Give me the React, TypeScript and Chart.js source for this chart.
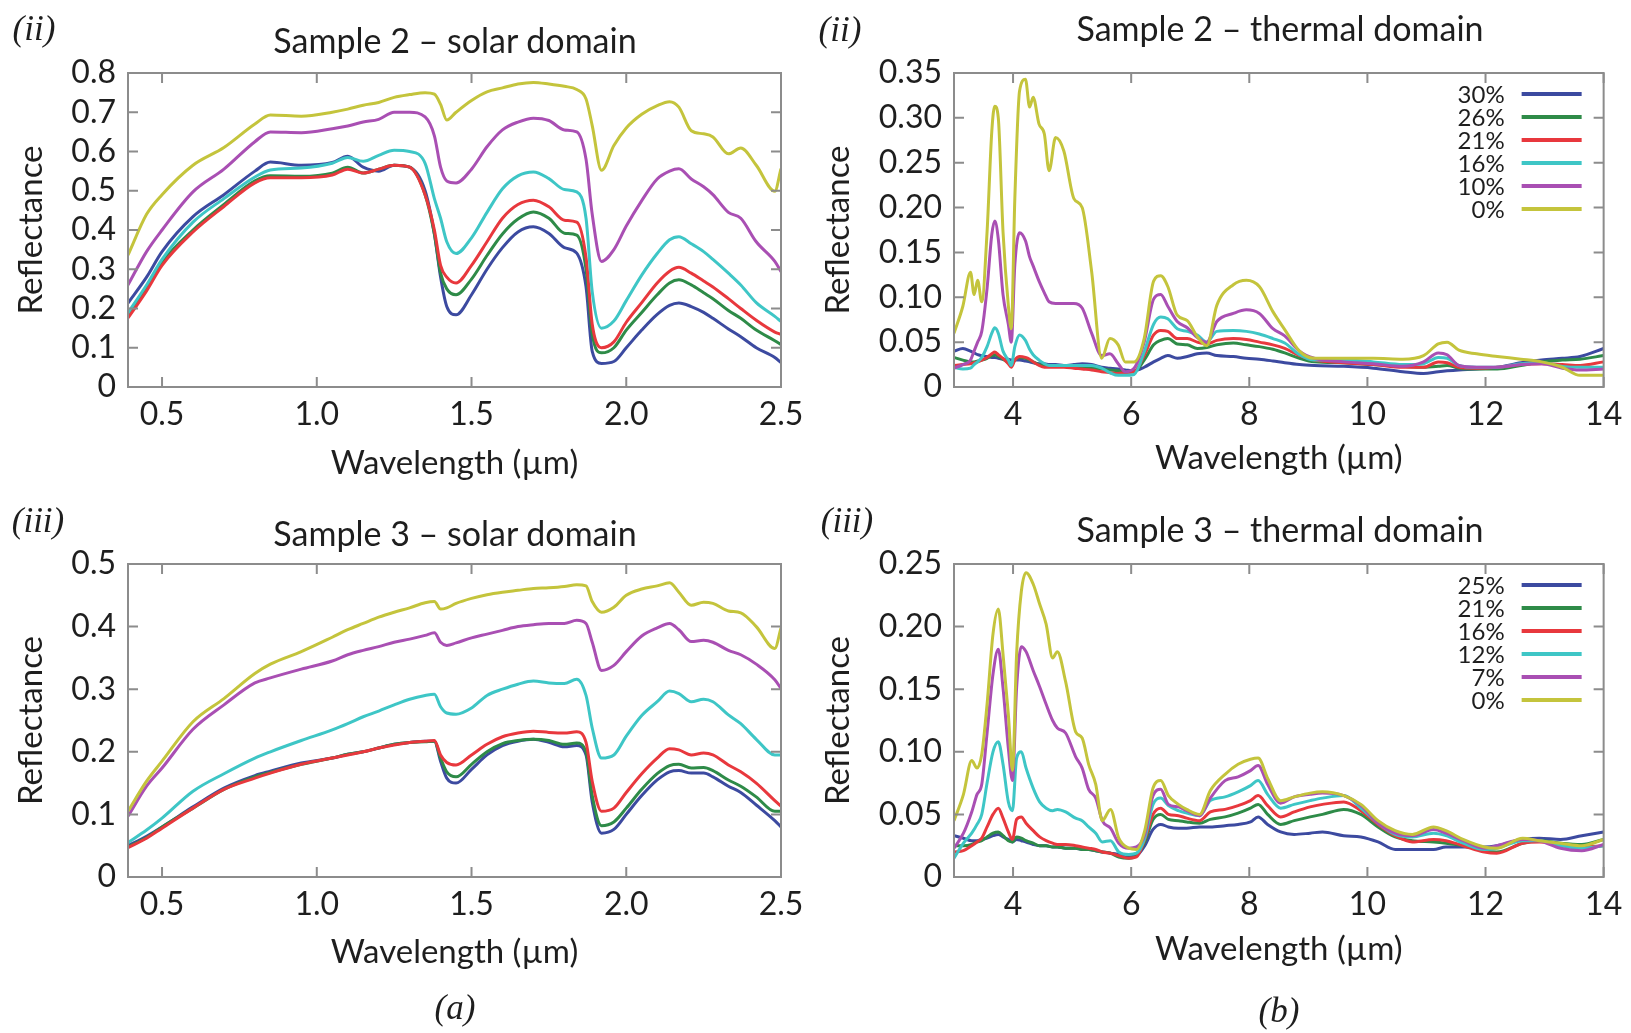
import React, { useEffect, useRef } from "react";
import { Chart, registerables } from "chart.js";

Chart.register(...registerables);

// ---------------- data ----------------
const SOLAR_WL = [0.39, 0.45, 0.5, 0.6, 0.7, 0.8, 0.85, 0.95, 1.05, 1.1, 1.15, 1.2, 1.25, 1.3, 1.35, 1.38, 1.4, 1.42, 1.45, 1.5, 1.55, 1.6, 1.65, 1.7, 1.75, 1.8, 1.84, 1.87, 1.89, 1.92, 1.96, 2.0, 2.05, 2.1, 2.14, 2.17, 2.21, 2.25, 2.28, 2.33, 2.37, 2.42, 2.48, 2.5];

const S2_SOLAR_30 = [0.214, 0.28, 0.345, 0.434, 0.49, 0.55, 0.573, 0.565, 0.572, 0.588, 0.56, 0.55, 0.565, 0.56, 0.50, 0.39, 0.28, 0.205, 0.184, 0.235, 0.30, 0.355, 0.395, 0.408, 0.391, 0.355, 0.341, 0.255, 0.091, 0.06, 0.065, 0.10, 0.145, 0.185, 0.208, 0.214, 0.205, 0.19, 0.175, 0.148, 0.128, 0.10, 0.075, 0.062];
const S2_SOLAR_26 = [0.185, 0.255, 0.318, 0.40, 0.465, 0.525, 0.538, 0.537, 0.545, 0.56, 0.545, 0.555, 0.565, 0.56, 0.49, 0.39, 0.29, 0.25, 0.235, 0.275, 0.335, 0.39, 0.428, 0.446, 0.43, 0.392, 0.387, 0.30, 0.135, 0.087, 0.10, 0.145, 0.19, 0.235, 0.265, 0.273, 0.26, 0.24, 0.225, 0.195, 0.175, 0.145, 0.118, 0.108];
const S2_SOLAR_21 = [0.176, 0.245, 0.31, 0.395, 0.46, 0.52, 0.533, 0.533, 0.54, 0.555, 0.545, 0.555, 0.565, 0.56, 0.49, 0.40, 0.31, 0.28, 0.265, 0.31, 0.37, 0.43, 0.465, 0.476, 0.459, 0.425, 0.42, 0.33, 0.16, 0.10, 0.115, 0.165, 0.215, 0.265, 0.295, 0.305, 0.29, 0.27, 0.255, 0.225, 0.20, 0.17, 0.14, 0.134];
const S2_SOLAR_16 = [0.189, 0.26, 0.325, 0.42, 0.48, 0.535, 0.553, 0.558, 0.57, 0.585, 0.575, 0.59, 0.603, 0.60, 0.57, 0.48, 0.43, 0.37, 0.34, 0.38, 0.445, 0.505, 0.538, 0.548, 0.531, 0.503, 0.497, 0.43, 0.243, 0.15, 0.168, 0.22, 0.285, 0.34, 0.375, 0.383, 0.365, 0.345, 0.325, 0.29, 0.26, 0.215, 0.18, 0.167];
const S2_SOLAR_10 = [0.26, 0.345, 0.40, 0.497, 0.555, 0.625, 0.65, 0.648, 0.658, 0.665, 0.675, 0.682, 0.70, 0.70, 0.688, 0.64, 0.56, 0.525, 0.52, 0.555, 0.612, 0.655, 0.675, 0.685, 0.679, 0.655, 0.65, 0.58, 0.44, 0.32, 0.35, 0.41, 0.475, 0.53, 0.55, 0.556, 0.53, 0.51, 0.49, 0.445, 0.43, 0.37, 0.32, 0.294];
const S2_SOLAR_0 = [0.336, 0.44, 0.49, 0.565, 0.61, 0.67, 0.693, 0.69, 0.70, 0.708, 0.718, 0.725, 0.738, 0.745, 0.75, 0.746, 0.72, 0.68, 0.70, 0.73, 0.752, 0.762, 0.772, 0.776, 0.772, 0.766, 0.758, 0.734, 0.666, 0.552, 0.615, 0.66, 0.695, 0.717, 0.727, 0.713, 0.653, 0.645, 0.637, 0.594, 0.609, 0.565, 0.499, 0.556];

const S3_SOLAR_25 = [0.05, 0.065, 0.08, 0.112, 0.142, 0.162, 0.169, 0.182, 0.19, 0.196, 0.2, 0.206, 0.212, 0.215, 0.217, 0.217, 0.185, 0.158, 0.15, 0.172, 0.195, 0.21, 0.217, 0.22, 0.215, 0.208, 0.21, 0.195, 0.12, 0.07, 0.076, 0.10, 0.13, 0.155, 0.168, 0.17, 0.166, 0.166, 0.16, 0.145, 0.135, 0.115, 0.09, 0.08];
const S3_SOLAR_21 = [0.048, 0.063, 0.08, 0.11, 0.14, 0.16, 0.167, 0.18, 0.19, 0.196, 0.2, 0.206, 0.212, 0.215, 0.216, 0.217, 0.19, 0.168, 0.16, 0.18, 0.2, 0.213, 0.218, 0.22, 0.218, 0.212, 0.214, 0.2, 0.13, 0.082, 0.088, 0.11, 0.14, 0.165, 0.178, 0.18, 0.174, 0.175, 0.17, 0.155, 0.145, 0.128, 0.105, 0.105];
const S3_SOLAR_16 = [0.047, 0.062, 0.078, 0.11, 0.14, 0.158, 0.166, 0.18, 0.19, 0.195, 0.2, 0.206, 0.211, 0.215, 0.217, 0.218, 0.195, 0.183, 0.179, 0.195, 0.212, 0.224, 0.23, 0.233, 0.231, 0.23, 0.232, 0.215, 0.153, 0.105, 0.11, 0.135, 0.165, 0.19, 0.205, 0.203, 0.195, 0.198, 0.195, 0.179, 0.168, 0.15, 0.122, 0.113];
const S3_SOLAR_12 = [0.055, 0.075, 0.094, 0.137, 0.165, 0.19, 0.20, 0.218, 0.235, 0.245, 0.256, 0.265, 0.275, 0.284, 0.29, 0.292, 0.272, 0.262, 0.26, 0.27, 0.29, 0.30, 0.308, 0.313, 0.31, 0.309, 0.316, 0.29, 0.238, 0.19, 0.195, 0.225, 0.258, 0.28, 0.297, 0.293, 0.28, 0.284, 0.28, 0.259, 0.245, 0.22, 0.195, 0.195];
const S3_SOLAR_7 = [0.097, 0.145, 0.174, 0.236, 0.275, 0.31, 0.318, 0.332, 0.345, 0.355, 0.362, 0.368, 0.375, 0.38, 0.386, 0.39, 0.375, 0.37, 0.374, 0.382, 0.388, 0.394, 0.40, 0.403, 0.405, 0.405, 0.41, 0.405, 0.375, 0.33, 0.338, 0.36, 0.385, 0.398, 0.405, 0.395, 0.376, 0.378, 0.375, 0.362, 0.355, 0.34, 0.315, 0.301];
const S3_SOLAR_0 = [0.105, 0.153, 0.185, 0.248, 0.285, 0.325, 0.34, 0.36, 0.383, 0.395, 0.405, 0.415, 0.423, 0.43, 0.438, 0.44, 0.428, 0.43, 0.437, 0.445, 0.451, 0.455, 0.458, 0.461, 0.462, 0.464, 0.467, 0.465, 0.44, 0.423, 0.431, 0.45, 0.46, 0.465, 0.47, 0.455, 0.434, 0.439, 0.437, 0.425, 0.422, 0.40, 0.365, 0.398];

const S2_THERMAL_WL = [3.0, 3.15, 3.28, 3.34, 3.4, 3.47, 3.56, 3.64, 3.69, 3.75, 3.83, 3.92, 3.97, 4.03, 4.11, 4.21, 4.28, 4.34, 4.44, 4.53, 4.61, 4.72, 4.86, 5.03, 5.17, 5.33, 5.5, 5.64, 5.78, 5.9, 6.05, 6.22, 6.38, 6.5, 6.62, 6.78, 6.95, 7.12, 7.28, 7.45, 7.73, 7.95, 8.17, 8.4, 8.6, 8.85, 9.1, 9.6, 10.1, 10.6, 10.95, 11.2, 11.35, 11.55, 11.85, 12.2, 12.6, 12.95, 13.3, 13.6, 14.0];
const S2_THERMAL_30 = [0.04, 0.043, 0.04, 0.038, 0.036, 0.035, 0.034, 0.033, 0.033, 0.032, 0.031, 0.031, 0.03, 0.03, 0.03, 0.029, 0.028, 0.027, 0.026, 0.026, 0.025, 0.025, 0.024, 0.025, 0.026, 0.025, 0.022, 0.021, 0.02, 0.019, 0.018, 0.022, 0.028, 0.032, 0.035, 0.032, 0.034, 0.037, 0.038, 0.035, 0.034, 0.032, 0.031, 0.029, 0.027, 0.025, 0.024, 0.023, 0.021, 0.017, 0.015, 0.017, 0.018, 0.019, 0.02, 0.022, 0.027, 0.03, 0.032, 0.034, 0.043];
const S2_THERMAL_26 = [0.033, 0.03, 0.028, 0.028, 0.029, 0.03, 0.032, 0.035, 0.036, 0.034, 0.031, 0.027, 0.024, 0.03, 0.033, 0.032, 0.03, 0.028, 0.025, 0.024, 0.023, 0.023, 0.023, 0.022, 0.022, 0.021, 0.02, 0.019, 0.018, 0.017, 0.017, 0.03, 0.047, 0.052, 0.054, 0.048, 0.047, 0.043, 0.044, 0.047, 0.049, 0.047, 0.045, 0.042, 0.038, 0.032, 0.028, 0.027, 0.025, 0.023, 0.022, 0.023, 0.024, 0.021, 0.02, 0.02, 0.024, 0.028, 0.03, 0.031, 0.035];
const S2_THERMAL_21 = [0.024, 0.025, 0.026, 0.027, 0.028, 0.03, 0.033, 0.037, 0.039, 0.036, 0.032, 0.026, 0.022, 0.03, 0.034, 0.033, 0.031, 0.028, 0.024, 0.022, 0.022, 0.022, 0.022, 0.021, 0.02, 0.019, 0.017, 0.016, 0.015, 0.016, 0.017, 0.035, 0.058, 0.063, 0.062, 0.054, 0.054, 0.05, 0.048, 0.052, 0.054, 0.053, 0.05, 0.047, 0.043, 0.035, 0.03, 0.027, 0.025, 0.022, 0.022, 0.028, 0.027, 0.022, 0.021, 0.022, 0.025, 0.026, 0.025, 0.024, 0.028];
const S2_THERMAL_16 = [0.022, 0.02, 0.021, 0.025, 0.028, 0.033, 0.045, 0.06, 0.066, 0.06, 0.04, 0.03, 0.024, 0.045, 0.058, 0.052, 0.042, 0.036, 0.03, 0.026, 0.024, 0.024, 0.024, 0.024, 0.024, 0.024, 0.021, 0.016, 0.013, 0.013, 0.014, 0.039, 0.07, 0.078, 0.076, 0.065, 0.062, 0.058, 0.05, 0.062, 0.063, 0.062, 0.059, 0.054, 0.049, 0.036, 0.03, 0.03, 0.028, 0.025, 0.026, 0.033, 0.032, 0.024, 0.022, 0.022, 0.026, 0.027, 0.023, 0.022, 0.022];
const S2_THERMAL_10 = [0.021, 0.025, 0.03, 0.04, 0.05, 0.062, 0.11, 0.17, 0.185, 0.165, 0.103, 0.07, 0.05, 0.136, 0.172, 0.163, 0.145, 0.135, 0.118, 0.105, 0.095, 0.093, 0.093, 0.093, 0.088, 0.06, 0.035, 0.037, 0.026, 0.017, 0.021, 0.05, 0.098, 0.103, 0.09, 0.073, 0.066, 0.055, 0.05, 0.073, 0.082, 0.086, 0.082, 0.065, 0.057, 0.04, 0.032, 0.028, 0.026, 0.023, 0.028, 0.038, 0.036, 0.024, 0.022, 0.022, 0.025, 0.026, 0.021, 0.019, 0.02];
const S2_THERMAL_0 = [0.06, 0.09, 0.128, 0.103, 0.119, 0.095, 0.173, 0.285, 0.313, 0.30, 0.173, 0.091, 0.065, 0.21, 0.33, 0.343, 0.312, 0.323, 0.293, 0.282, 0.241, 0.278, 0.263, 0.21, 0.20, 0.129, 0.032, 0.054, 0.047, 0.028, 0.028, 0.054, 0.118, 0.124, 0.112, 0.08, 0.074, 0.056, 0.046, 0.091, 0.114, 0.119, 0.112, 0.084, 0.064, 0.04, 0.032, 0.032, 0.032, 0.031, 0.035, 0.048, 0.05, 0.041, 0.037, 0.034, 0.031, 0.028, 0.022, 0.013, 0.013];

const S3_THERMAL_WL = [3.0, 3.16, 3.3, 3.39, 3.47, 3.56, 3.66, 3.75, 3.83, 3.92, 3.99, 4.06, 4.14, 4.22, 4.34, 4.45, 4.56, 4.67, 4.75, 4.89, 5.06, 5.17, 5.28, 5.4, 5.51, 5.65, 5.79, 5.96, 6.09, 6.23, 6.37, 6.5, 6.63, 6.8, 6.94, 7.16, 7.34, 7.59, 7.81, 8.02, 8.15, 8.31, 8.53, 8.76, 9.03, 9.24, 9.6, 9.89, 10.18, 10.47, 10.76, 11.12, 11.33, 11.62, 11.98, 12.19, 12.63, 12.91, 13.27, 13.63, 14.0];
const S3_THERMAL_25 = [0.033, 0.031, 0.029, 0.029, 0.03, 0.031, 0.033, 0.034, 0.032, 0.03, 0.028, 0.03, 0.029, 0.028, 0.026, 0.025, 0.025, 0.024, 0.024, 0.023, 0.023, 0.022, 0.022, 0.021, 0.02, 0.019, 0.018, 0.016, 0.017, 0.025, 0.038, 0.042, 0.04, 0.039, 0.039, 0.04, 0.04, 0.041, 0.042, 0.044, 0.048, 0.042, 0.036, 0.034, 0.035, 0.036, 0.033, 0.032, 0.028, 0.022, 0.022, 0.022, 0.024, 0.024, 0.024, 0.025, 0.03, 0.031, 0.03, 0.033, 0.036];
const S3_THERMAL_21 = [0.025, 0.025, 0.026, 0.028, 0.029, 0.032, 0.035, 0.036, 0.033, 0.029, 0.028, 0.032, 0.031, 0.029, 0.027, 0.025, 0.025, 0.024, 0.024, 0.023, 0.023, 0.022, 0.022, 0.021, 0.02, 0.019, 0.016, 0.015, 0.017, 0.028, 0.046, 0.05, 0.046, 0.045, 0.044, 0.043, 0.046, 0.048, 0.051, 0.055, 0.058, 0.05, 0.042, 0.045, 0.048, 0.05, 0.054, 0.05, 0.04, 0.032, 0.029, 0.028, 0.027, 0.025, 0.021, 0.02, 0.027, 0.029, 0.027, 0.026, 0.03];
const S3_THERMAL_16 = [0.02, 0.021, 0.025, 0.028, 0.031, 0.04, 0.05, 0.055, 0.047, 0.036, 0.03, 0.046, 0.048, 0.043, 0.037, 0.032, 0.029, 0.027, 0.026, 0.026, 0.025, 0.024, 0.023, 0.022, 0.02, 0.019, 0.017, 0.015, 0.016, 0.03, 0.05, 0.055, 0.05, 0.049, 0.047, 0.045, 0.052, 0.054, 0.057, 0.061, 0.065, 0.057, 0.048, 0.052, 0.056, 0.058, 0.06, 0.053, 0.042, 0.033, 0.028, 0.03, 0.029, 0.025, 0.02, 0.019, 0.027, 0.028, 0.026, 0.024, 0.025];
const S3_THERMAL_12 = [0.015, 0.027, 0.035, 0.042, 0.05, 0.075, 0.1, 0.108, 0.09, 0.06, 0.053, 0.095, 0.1, 0.087, 0.071, 0.06, 0.055, 0.053, 0.054, 0.052, 0.047, 0.045, 0.04, 0.035, 0.028, 0.029, 0.02, 0.018, 0.019, 0.031, 0.058, 0.063, 0.057, 0.053, 0.051, 0.049, 0.061, 0.064, 0.068, 0.073, 0.077, 0.066, 0.055, 0.058, 0.061, 0.063, 0.065, 0.055, 0.043, 0.034, 0.032, 0.035, 0.033, 0.027, 0.022, 0.023, 0.029, 0.029, 0.025, 0.023, 0.025];
const S3_THERMAL_7 = [0.023, 0.035, 0.052, 0.066, 0.074, 0.115, 0.162, 0.182, 0.151, 0.103, 0.077, 0.151, 0.184, 0.18, 0.165, 0.152, 0.138, 0.125, 0.119, 0.115, 0.096, 0.087, 0.07, 0.063, 0.045, 0.039, 0.027, 0.023, 0.024, 0.034, 0.065, 0.07, 0.058, 0.056, 0.053, 0.049, 0.063, 0.077, 0.08, 0.085, 0.089, 0.074, 0.059, 0.064, 0.066, 0.067, 0.065, 0.057, 0.043, 0.035, 0.033, 0.038, 0.035, 0.029, 0.023, 0.025, 0.03, 0.029, 0.023, 0.021, 0.026];
const S3_THERMAL_0 = [0.045, 0.066, 0.093, 0.087, 0.098, 0.138, 0.194, 0.214, 0.178, 0.13, 0.085, 0.178, 0.228, 0.243, 0.234, 0.218, 0.202, 0.175, 0.18, 0.156, 0.116, 0.111, 0.09, 0.074, 0.045, 0.054, 0.031, 0.023, 0.022, 0.037, 0.071, 0.077, 0.065, 0.058, 0.054, 0.05, 0.069, 0.082, 0.09, 0.094, 0.095, 0.079, 0.061, 0.064, 0.067, 0.068, 0.065, 0.058, 0.045, 0.037, 0.034, 0.04, 0.037, 0.03, 0.024, 0.023, 0.031, 0.029, 0.027, 0.025, 0.03];

const SOLAR_X_TICKS = [0.5, 1.0, 1.5, 2.0, 2.5];
const THERMAL_X_TICKS = [4, 6, 8, 10, 12, 14];
const S2_SOLAR_Y_TICKS = [0, 0.1, 0.2, 0.3, 0.4, 0.5, 0.6, 0.7, 0.8];
const S3_SOLAR_Y_TICKS = [0, 0.1, 0.2, 0.3, 0.4, 0.5];
const S2_THERMAL_Y_TICKS = [0, 0.05, 0.1, 0.15, 0.2, 0.25, 0.3, 0.35];
const S3_THERMAL_Y_TICKS = [0, 0.05, 0.1, 0.15, 0.2, 0.25];

const S2_LABELS = ["30%", "26%", "21%", "16%", "10%", "0%"];
const S3_LABELS = ["25%", "21%", "16%", "12%", "7%", "0%"];

// ---------------- styles ----------------
const FONT = "Lato, 'Open Sans', 'DejaVu Sans', sans-serif";
const SERIF = "'Liberation Serif', 'DejaVu Serif', serif";
const TEXT = "#1e1e1e";
const COLORS = ["#3c4aa0", "#2e8b48", "#e8383d", "#3ec6c6", "#a94fb3", "#c4c43c"];
const TICK_FONT = 32;
const TITLE_FONT = 33;
const TITLE_LH = TITLE_FONT * 1.2;
const TICK_LH = TICK_FONT * 1.2;

const framePlugin = {
  id: "frame",
  afterDatasetsDraw(chart: any) {
    const { ctx, chartArea: a, scales } = chart;
    const L = 10;
    ctx.save();
    ctx.strokeStyle = "#8c8c8c";
    ctx.lineWidth = 2;
    ctx.strokeRect(a.left, a.top, a.right - a.left, a.bottom - a.top);
    ctx.beginPath();
    for (const t of scales.x.ticks) {
      const p = scales.x.getPixelForValue(t.value);
      ctx.moveTo(p, a.bottom);
      ctx.lineTo(p, a.bottom - L);
      ctx.moveTo(p, a.top);
      ctx.lineTo(p, a.top + L);
    }
    for (const t of scales.y.ticks) {
      const p = scales.y.getPixelForValue(t.value);
      ctx.moveTo(a.left, p);
      ctx.lineTo(a.left + L, p);
      ctx.moveTo(a.right, p);
      ctx.lineTo(a.right - L, p);
    }
    ctx.stroke();
    ctx.restore();
  },
};

const cornerLegend = {
  id: "cornerLegend",
  afterDraw(chart: any, _args: any, opts: any) {
    if (!opts || !opts.show) return;
    const { ctx, chartArea: a } = chart;
    ctx.save();
    ctx.font = `24px ${FONT}`;
    ctx.textAlign = "right";
    ctx.textBaseline = "middle";
    chart.data.datasets.forEach((ds: any, i: number) => {
      const y = a.top + 22 + i * 23;
      ctx.fillStyle = TEXT;
      ctx.fillText(ds.label, a.right - 99, y);
      ctx.strokeStyle = ds.borderColor;
      ctx.lineWidth = 4;
      ctx.beginPath();
      ctx.moveTo(a.right - 82, y - 1);
      ctx.lineTo(a.right - 22, y - 1);
      ctx.stroke();
    });
    ctx.restore();
  },
};

type PanelCfg = {
  canvas: { left: number; top: number; width: number; height: number };
  area: { l: number; t: number; r: number; b: number };
  yTitleX: number;
  xTitleY: number;
  wl: number[];
  series: number[][];
  labels: string[];
  xMin: number;
  xMax: number;
  xTicks: number[];
  yMax: number;
  yTicks: number[];
  xFmt: (v: number) => string;
  yFmt: (v: number) => string;
  legend: boolean;
};

const fmt1 = (v: number) => v.toFixed(1);
const fmtInt = (v: number) => String(v);
const fmtY1 = (v: number) => (v === 0 ? "0" : v.toFixed(1));
const fmtY2 = (v: number) => (v === 0 ? "0" : v.toFixed(2));

const PANELS: PanelCfg[] = [
  {
    canvas: { left: 0, top: 0, width: 815, height: 490 },
    area: { l: 128, t: 73, r: 781, b: 387 },
    yTitleX: 31, xTitleY: 463,
    wl: SOLAR_WL,
    series: [S2_SOLAR_30, S2_SOLAR_26, S2_SOLAR_21, S2_SOLAR_16, S2_SOLAR_10, S2_SOLAR_0],
    labels: S2_LABELS,
    xMin: 0.39, xMax: 2.5, xTicks: SOLAR_X_TICKS,
    yMax: 0.8, yTicks: S2_SOLAR_Y_TICKS,
    xFmt: fmt1, yFmt: fmtY1, legend: false,
  },
  {
    canvas: { left: 815, top: 0, width: 816, height: 490 },
    area: { l: 954, t: 73, r: 1606, b: 387 },
    yTitleX: 838, xTitleY: 458,
    wl: S2_THERMAL_WL,
    series: [S2_THERMAL_30, S2_THERMAL_26, S2_THERMAL_21, S2_THERMAL_16, S2_THERMAL_10, S2_THERMAL_0],
    labels: S2_LABELS,
    xMin: 3, xMax: 14, xTicks: THERMAL_X_TICKS,
    yMax: 0.35, yTicks: S2_THERMAL_Y_TICKS,
    xFmt: fmtInt, yFmt: fmtY2, legend: true,
  },
  {
    canvas: { left: 0, top: 490, width: 815, height: 543 },
    area: { l: 128, t: 564, r: 781, b: 877 },
    yTitleX: 31, xTitleY: 952,
    wl: SOLAR_WL,
    series: [S3_SOLAR_25, S3_SOLAR_21, S3_SOLAR_16, S3_SOLAR_12, S3_SOLAR_7, S3_SOLAR_0],
    labels: S3_LABELS,
    xMin: 0.39, xMax: 2.5, xTicks: SOLAR_X_TICKS,
    yMax: 0.5, yTicks: S3_SOLAR_Y_TICKS,
    xFmt: fmt1, yFmt: fmtY1, legend: false,
  },
  {
    canvas: { left: 815, top: 490, width: 816, height: 543 },
    area: { l: 954, t: 564, r: 1606, b: 877 },
    yTitleX: 838, xTitleY: 949,
    wl: S3_THERMAL_WL,
    series: [S3_THERMAL_25, S3_THERMAL_21, S3_THERMAL_16, S3_THERMAL_12, S3_THERMAL_7, S3_THERMAL_0],
    labels: S3_LABELS,
    xMin: 3, xMax: 14, xTicks: THERMAL_X_TICKS,
    yMax: 0.25, yTicks: S3_THERMAL_Y_TICKS,
    xFmt: fmtInt, yFmt: fmtY2, legend: true,
  },
];

const TEXTS = [
  { text: "Sample 2 – solar domain", x: 455, y: 40, serif: false },
  { text: "Sample 2 – thermal domain", x: 1280, y: 28, serif: false },
  { text: "Sample 3 – solar domain", x: 455, y: 533, serif: false },
  { text: "Sample 3 – thermal domain", x: 1280, y: 529, serif: false },
  { text: "(ii)", x: 34, y: 28, serif: true },
  { text: "(ii)", x: 840, y: 29, serif: true },
  { text: "(iii)", x: 38, y: 520, serif: true },
  { text: "(iii)", x: 847, y: 520, serif: true },
  { text: "(a)", x: 455, y: 1007, serif: true },
  { text: "(b)", x: 1279, y: 1010, serif: true },
];

function Panel({ cfg }: { cfg: PanelCfg }) {
  const ref = useRef<HTMLCanvasElement | null>(null);
  useEffect(() => {
    if (!ref.current) return;
    const c = cfg.canvas;
    const yAxisW = cfg.area.l - c.left;
    const yTitlePad = Math.max(0, cfg.yTitleX - c.left - TITLE_LH / 2);
    const padTop = cfg.area.t - c.top;
    const padRight = c.left + c.width - cfg.area.r;
    const xAxisH = cfg.xTitleY + TITLE_LH / 2 - cfg.area.b;
    const padBottom = c.top + c.height - cfg.area.b - xAxisH;
    const xTickPad = 28 - TICK_LH / 2;
    const n = cfg.series.length;
    const chart = new Chart(ref.current, {
      type: "line",
      data: {
        datasets: cfg.series.map((s, i) => ({
          label: cfg.labels[i],
          data: cfg.wl.map((w, j) => ({ x: w, y: s[j] })),
          borderColor: COLORS[i],
          backgroundColor: COLORS[i],
          borderWidth: 3,
          pointRadius: 0,
          fill: false,
          cubicInterpolationMode: "monotone",
          order: n - 1 - i,
        })),
      },
      options: {
        responsive: false,
        animation: false,
        devicePixelRatio: 1,
        events: [],
        layout: { padding: { left: 0, top: padTop, right: padRight, bottom: padBottom } },
        plugins: {
          legend: { display: false },
          tooltip: { enabled: false },
          title: { display: false },
          cornerLegend: { show: cfg.legend },
        } as any,
        scales: {
          x: {
            type: "linear",
            min: cfg.xMin,
            max: cfg.xMax,
            grid: { display: false, drawTicks: false },
            border: { display: false },
            afterBuildTicks: (s: any) => {
              s.ticks = cfg.xTicks.map((v) => ({ value: v }));
            },
            afterFit: (s: any) => {
              s.height = xAxisH;
            },
            ticks: {
              autoSkip: false,
              maxRotation: 0,
              minRotation: 0,
              padding: xTickPad,
              color: TEXT,
              font: { family: FONT, size: TICK_FONT },
              callback: (v: any) => cfg.xFmt(Number(v)),
            },
            title: {
              display: true,
              text: "Wavelength (µm)",
              color: TEXT,
              font: { family: FONT, size: TITLE_FONT },
              padding: 0,
            },
          },
          y: {
            type: "linear",
            min: 0,
            max: cfg.yMax,
            grid: { display: false, drawTicks: false },
            border: { display: false },
            afterBuildTicks: (s: any) => {
              s.ticks = cfg.yTicks.map((v) => ({ value: v }));
            },
            afterFit: (s: any) => {
              s.width = yAxisW;
            },
            ticks: {
              autoSkip: false,
              padding: 12,
              color: TEXT,
              font: { family: FONT, size: TICK_FONT },
              callback: (v: any) => cfg.yFmt(Number(v)),
            },
            title: {
              display: true,
              text: "Reflectance",
              color: TEXT,
              font: { family: FONT, size: TITLE_FONT },
              padding: { top: yTitlePad, bottom: 0 },
            },
          },
        },
      } as any,
      plugins: [framePlugin, cornerLegend],
    });
    return () => chart.destroy();
  }, [cfg]);
  const c = cfg.canvas;
  return (
    <canvas
      ref={ref}
      width={c.width}
      height={c.height}
      style={{ position: "absolute", left: c.left, top: c.top, width: c.width, height: c.height }}
    />
  );
}

export default function App() {
  return (
    <div style={{ position: "absolute", left: 0, top: 0, width: 1631, height: 1033, background: "#ffffff", overflow: "hidden" }}>
      {PANELS.map((p, i) => (
        <Panel key={i} cfg={p} />
      ))}
      {TEXTS.map((t, i) => (
        <div
          key={"t" + i}
          style={{
            position: "absolute",
            left: t.x,
            top: t.y,
            transform: "translate(-50%, -50%)",
            whiteSpace: "nowrap",
            lineHeight: 1,
            color: TEXT,
            fontFamily: t.serif ? SERIF : FONT,
            fontStyle: t.serif ? "italic" : "normal",
            fontSize: t.serif ? 35 : 34,
          }}
        >
          {t.text}
        </div>
      ))}
    </div>
  );
}
